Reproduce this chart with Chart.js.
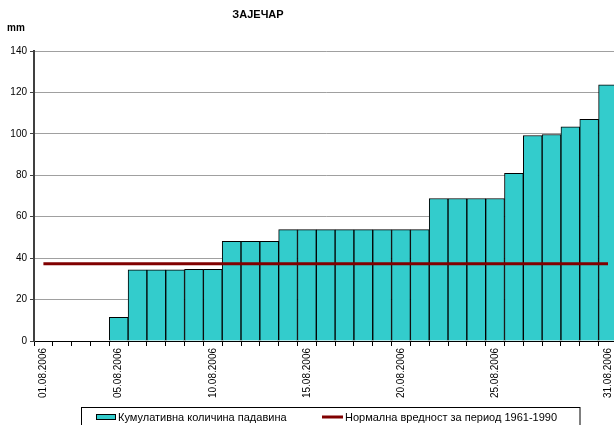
<!DOCTYPE html>
<html>
<head>
<meta charset="utf-8">
<script src="https://cdn.jsdelivr.net/npm/chart.js@4"></script>
<style>
html,body{margin:0;padding:0;background:#fff;overflow:hidden;width:614px;height:425px}
#wrap{width:622px;height:425px}
</style>
</head>
<body>
<div id="wrap"><canvas id="c" width="622" height="425"></canvas></div>
<script>
const days=['01.08.2006','02.08.2006','03.08.2006','04.08.2006','05.08.2006','06.08.2006','07.08.2006','08.08.2006','09.08.2006','10.08.2006',
 '11.08.2006','12.08.2006','13.08.2006','14.08.2006','15.08.2006','16.08.2006','17.08.2006','18.08.2006','19.08.2006','20.08.2006',
 '21.08.2006','22.08.2006','23.08.2006','24.08.2006','25.08.2006','26.08.2006','27.08.2006','28.08.2006','29.08.2006','30.08.2006','31.08.2006'];
const shownLabels=['01.08.2006','05.08.2006','10.08.2006','15.08.2006','20.08.2006','25.08.2006','31.08.2006'];
const cumulative=[0,0,0,0,11.4,34.3,34.3,34.3,34.6,34.6,
 48.1,48.1,48.1,53.8,53.8,53.8,53.8,53.8,53.8,53.8,
 53.8,68.8,68.8,68.8,68.8,80.9,99.2,99.7,103.4,107,123.7];
const normal=days.map(()=>37.3);
const yTicks=[0,20,40,60,80,100,120,140];
const seriesNames=['Кумулативна количина падавина','Нормална вредност за период 1961-1990'];

const FONT='"Liberation Sans", Arial, sans-serif';

const decor={
  id:'decor',
  afterDraw(chart){
    const ctx=chart.ctx;
    ctx.save();
    ctx.fillStyle='#000';
    ctx.textAlign='center'; ctx.textBaseline='middle';
    ctx.font='bold 11px '+FONT;
    ctx.fillText('ЗАЈЕЧАР',258,15);
    ctx.textAlign='left';
    ctx.font='bold 10px '+FONT;
    ctx.fillText('mm',7,28);
    // legend
    ctx.strokeStyle='#000'; ctx.lineWidth=1;
    ctx.strokeRect(81.5,407.5,498.5,30);
    ctx.fillStyle='#33CCCC';
    ctx.fillRect(96,414,19,5);
    ctx.strokeRect(96.5,414.5,19,5);
    ctx.strokeStyle='#800000'; ctx.lineWidth=3;
    ctx.beginPath(); ctx.moveTo(322,417); ctx.lineTo(343,417); ctx.stroke();
    ctx.fillStyle='#000';
    ctx.font='11px '+FONT;
    ctx.textBaseline='middle';
    ctx.fillText(seriesNames[0],118,418);
    ctx.fillText(seriesNames[1],345,418);
    ctx.restore();
  }
};

new Chart(document.getElementById('c'),{
  data:{
    labels:days,
    datasets:[
      {type:'line',label:seriesNames[1],data:normal,borderColor:'#800000',borderWidth:3,pointRadius:0,order:0},
      {type:'bar',label:seriesNames[0],data:cumulative,backgroundColor:'#33CCCC',borderColor:'#000',borderWidth:1,
       barPercentage:1,categoryPercentage:1,order:1}
    ]
  },
  options:{
    responsive:false,animation:false,
    layout:{padding:{top:51,left:0,right:0,bottom:0}},
    plugins:{legend:{display:false},title:{display:false},tooltip:{enabled:false}},
    scales:{
      x:{
        afterFit(s){s.height=84;},
        grid:{offset:true,drawOnChartArea:false,drawTicks:true,tickLength:5,color:'#000'},
        border:{color:'#000',width:1},
        ticks:{autoSkip:false,minRotation:90,maxRotation:90,padding:2,color:'#000',font:{family:FONT,size:10},
          callback(v,i){const l=days[i];return shownLabels.includes(l)?l:'';}}
      },
      y:{
        min:0,max:140,
        afterFit(s){s.width=34;},
        afterBuildTicks(s){s.ticks=yTicks.map(v=>({value:v}));},
        grid:{color:'#A0A0A0',lineWidth:1,tickLength:4,tickColor:'#404040'},
        border:{color:'#404040',width:2},
        ticks:{padding:3,color:'#000',font:{family:FONT,size:10}}
      }
    }
  },
  plugins:[decor]
});
</script>
</body>
</html>
